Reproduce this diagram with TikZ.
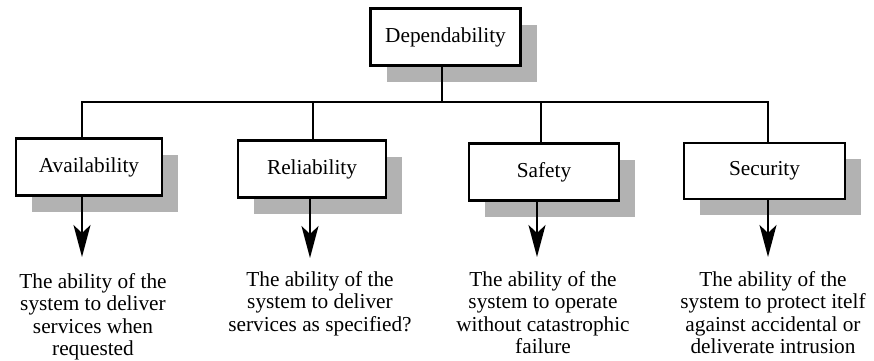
\documentclass[tikz,border=0pt]{standalone}
\usepackage{fontspec}
\setmainfont{Liberation Serif}
\newfontfamily\tmsfont{Liberation Serif}
\usetikzlibrary{arrows.meta,shadows}
\begin{document}
\begin{tikzpicture}[x=1pt,y=-1pt,
  box/.style={draw, line width=2.5pt, fill=white, minimum height=57pt, inner sep=0pt,
    font=\tmsfont\fontsize{21.3}{24}\selectfont,
    drop shadow={shadow xshift=16pt, shadow yshift=-16pt, fill=gray!60, opacity=1}},
  txt/.style={align=center, inner sep=0pt, anchor=north, font=\tmsfont\fontsize{21.3}{22.5}\selectfont},
  conn/.style={line width=2pt},
  arr/.style={line width=2pt, -{Stealth[length=32pt,width=17pt,inset=8pt]}}]
\useasboundingbox (0,0) rectangle (874,360);
\node[box, minimum width=150pt] (dep) at (445.5,37) {Dependability};
\node[box, minimum width=146pt] (avail) at (89,167) {Availability};
\node[box, minimum width=148pt] (rel) at (312,169) {Reliability};
\node[box, minimum width=150pt] (safe) at (544,172) {Safety};
\node[box, minimum width=161pt, minimum height=56pt] (sec) at (764.5,171) {Security};
\coordinate (bus) at (442,102);
\coordinate (s1) at (82,102);
\coordinate (s2) at (313,102);
\coordinate (s3) at (541,102);
\coordinate (s4) at (768,102);
\draw[conn] (bus |- dep.south) -- (bus);
\draw[conn] (s1 |- avail.north) -- (s1) -- (s4) -- (s4 |- sec.north);
\draw[conn] (s2) -- (s2 |- rel.north);
\draw[conn] (s3) -- (s3 |- safe.north);
\coordinate (t1) at (82,257);
\coordinate (t2) at (310,258);
\coordinate (t3) at (537,257);
\coordinate (t4) at (768,257);
\draw[arr] (t1 |- avail.south) -- (t1);
\draw[arr] (t2 |- rel.south) -- (t2);
\draw[arr] (t3 |- safe.south) -- (t3);
\draw[arr] (t4 |- sec.south) -- (t4);
\node[txt] (d1) at (93,273) {The ability of the\\system to deliver\\services when\\requested};
\node[txt] (d2) at (320,271) {The ability of the\\system to deliver\\services as specified?};
\node[txt] (d3) at (543,271) {The ability of the\\system to operate\\without catastrophic\\failure};
\node[txt] (d4) at (773,271) {The ability of the\\system to protect itelf\\against accidental or\\deliverate intrusion};
\end{tikzpicture}
\end{document}
